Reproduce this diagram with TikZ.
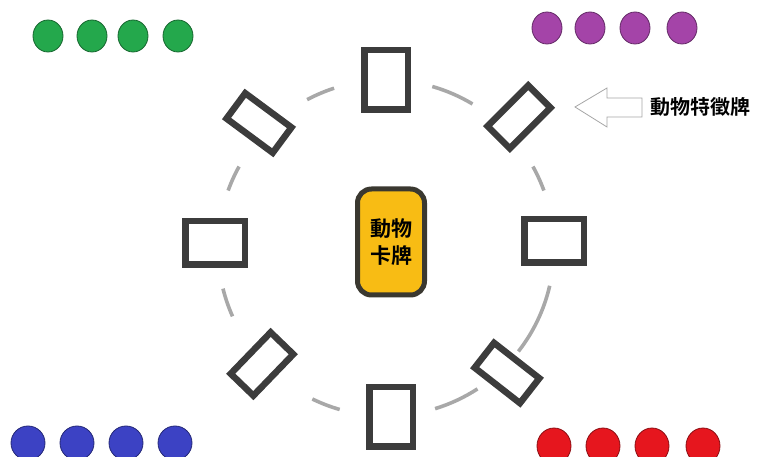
\documentclass[tikz,border=0pt]{standalone}
\usepackage{fontspec}
\newfontfamily\cjk{Noto Sans CJK TC}[BoldFont={Noto Sans CJK TC Bold}]
\usetikzlibrary{shapes.geometric,calc}
\definecolor{cardgray}{HTML}{3C3C3C}
\definecolor{ringgray}{HTML}{A8A8A8}
\definecolor{cardyellow}{HTML}{F8BC14}
\definecolor{cardedge}{HTML}{3A3830}
\definecolor{dgreen}{HTML}{24A84C}
\definecolor{dpurple}{HTML}{A444A8}
\definecolor{dblue}{HTML}{3C42C4}
\definecolor{dred}{HTML}{E6161E}
\tikzset{
  card/.style={draw=cardgray, line width=6.5pt, fill=white, minimum width=43.5pt, minimum height=59.5pt, inner sep=0pt},
  dcard/.style={draw=cardgray, line width=6.5pt, fill=white, minimum width=31.5pt, minimum height=57.5pt, inner sep=0pt},
  ring/.style={draw=ringgray, line width=3.6pt},
  dot/.style={ellipse, draw=#1!60!black, fill=#1, line width=0.8pt, minimum width=30pt, minimum height=32pt, inner sep=0pt},
  main/.style={draw=cardedge, line width=5pt, fill=cardyellow, rounded corners=14pt, minimum width=67pt, minimum height=106pt, inner sep=0pt, align=center, font=\cjk\bfseries\fontsize{21}{27}\selectfont},
  label/.style={font=\cjk\bfseries\fontsize{20}{24}\selectfont, inner sep=0pt, anchor=west},
  hollowarrow/.style={draw=gray!70, line width=0.8pt, fill=white, line join=miter}
}
\begin{document}
\begin{tikzpicture}[x=1pt,y=1pt]
\useasboundingbox (0,0) rectangle (761,457);
\coordinate (c) at (386,209);
% ring segments
\foreach \a/\b in {108/118, 59/74, 151/160, 194/204, 20/29, -38/-13, 244/254, 287/303}
  \draw[ring] ($(c)+(\a:168pt)$) arc[start angle=\a, end angle=\b, radius=168pt];
% cards
\node[card] (top) at (386,377) {};
\node[card] (bottom) at (391,40) {};
\node[card, rotate=90] (left) at (215,214) {};
\node[card, rotate=90] (right) at (554,216) {};
\node[dcard, rotate=53.5] (tl) at (259,334) {};
\node[dcard, rotate=-45] (tr) at (519,340) {};
\node[dcard, rotate=-44] (bl) at (262,93) {};
\node[dcard, rotate=52] (br) at (507,84) {};
% central card
\node[main] (animal) at (391,215) {動物\\卡牌};
% hollow arrow + label
\draw[hollowarrow] (575,350) -- (607,369) -- (607,359) -- (642,359) -- (642,340) -- (607,340) -- (607,330) -- cycle;
\node[label] (feat) at (650,350) {動物特徵牌};
% dots
\foreach \x [count=\i] in {48,92,133,178} \node[dot=dgreen] (g\i) at (\x,421) {};
\foreach \x [count=\i] in {547,590,635,682} \node[dot=dpurple] (p\i) at (\x,429) {};
\foreach \x [count=\i] in {28,77,126,175} \node[dot=dblue, minimum width=34pt, minimum height=34pt] (b\i) at (\x,14) {};
\foreach \x [count=\i] in {554,603,652,703} \node[dot=dred, minimum width=34pt, minimum height=36pt] (r\i) at (\x,11) {};
\end{tikzpicture}
\end{document}
